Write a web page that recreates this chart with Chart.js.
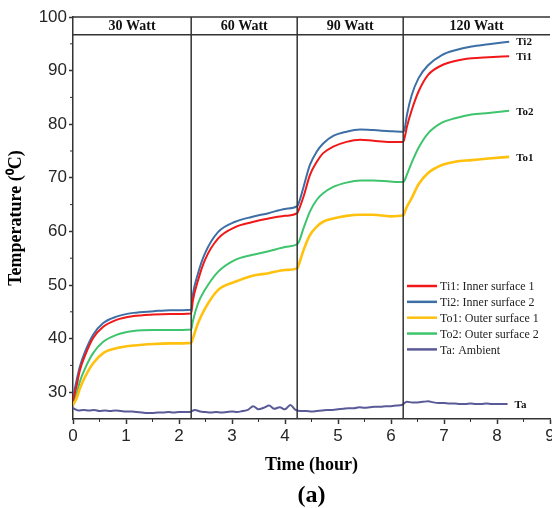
<!DOCTYPE html>
<html>
<head>
<meta charset="utf-8">
<script src="https://cdn.jsdelivr.net/npm/chart.js@4.4.1/dist/chart.umd.min.js"></script>
<style>
    html, body { margin: 0; padding: 0; background: #ffffff; }
</style>
</head>
<body>
<canvas id="chart" width="552" height="508"></canvas>
<script>
/* ---- values ---- */

var TIME = [0, 0.07, 0.13, 0.23, 0.38, 0.57, 0.82, 1.14, 1.52, 1.83, 2.23,
            2.26, 2.36, 2.49, 2.74, 3.06, 3.37, 3.69, 4.0, 4.23,
            4.26, 4.35, 4.47, 4.6, 4.72, 4.91, 5.16, 5.42, 5.67, 5.98, 6.23,
            6.26, 6.3, 6.39, 6.52, 6.7, 6.96, 7.21, 7.52, 7.84, 8.23];

var TI1 = [28.4, 31.3, 34.1, 36.9, 40.1, 42.2, 43.5, 44.2, 44.5, 44.6, 44.7,
           47.0, 50.9, 54.7, 58.7, 60.8, 61.7, 62.4, 62.9, 63.4,
           64.0, 66.5, 70.5, 73.0, 74.6, 75.8, 76.7, 77.1, 76.9, 76.7, 76.7,
           77.6, 79.5, 82.6, 86.1, 89.2, 91.0, 91.8, 92.3, 92.5, 92.7];

var TI2 = [29.0, 32.3, 34.8, 37.6, 40.7, 42.9, 44.1, 44.8, 45.1, 45.3, 45.4,
           48.1, 52.2, 55.9, 59.9, 61.8, 62.7, 63.4, 64.2, 64.7,
           65.3, 68.3, 72.4, 74.9, 76.4, 77.8, 78.6, 79.0, 78.9, 78.7, 78.6,
           79.2, 81.7, 85.4, 88.6, 91.0, 92.9, 93.8, 94.5, 94.9, 95.4];

var TO1 = [27.6, 28.9, 30.7, 32.9, 35.4, 37.3, 38.2, 38.7, 39.0, 39.1, 39.2,
           40.0, 42.9, 45.6, 49.1, 50.6, 51.7, 52.2, 52.8, 53.1,
           53.8, 56.5, 59.3, 60.9, 61.8, 62.4, 62.9, 63.1, 63.1, 62.8, 63.0,
           63.6, 64.6, 66.2, 68.8, 70.9, 72.4, 73.0, 73.3, 73.6, 73.9];

var TO2 = [27.9, 29.8, 32.0, 34.5, 37.3, 39.4, 40.7, 41.4, 41.6, 41.6, 41.7,
           43.2, 46.6, 49.1, 52.5, 54.7, 55.6, 56.3, 57.1, 57.6,
           58.0, 60.6, 63.7, 65.9, 67.1, 68.3, 69.1, 69.5, 69.5, 69.3, 69.2,
           69.6, 70.6, 72.8, 75.6, 78.3, 80.3, 81.1, 81.8, 82.1, 82.5];

var TA_TIME = [0, 0.1, 0.2, 0.3, 0.4, 0.5, 0.6, 0.7, 0.8, 0.9,
               1.0, 1.1, 1.2, 1.3, 1.4, 1.5, 1.6, 1.7, 1.8, 1.9,
               2.0, 2.1, 2.2, 2.3, 2.4, 2.5, 2.6, 2.7, 2.8, 2.9,
               3.0, 3.1, 3.2, 3.3, 3.4, 3.5, 3.6, 3.7, 3.8, 3.9,
               4.0, 4.1, 4.2, 4.3, 4.4, 4.5, 4.6, 4.7, 4.8, 4.9,
               5.0, 5.1, 5.2, 5.3, 5.4, 5.5, 5.6, 5.7, 5.8, 5.9,
               6.0, 6.1, 6.2, 6.3, 6.4, 6.5, 6.6, 6.7, 6.8, 6.9,
               7.0, 7.1, 7.2, 7.3, 7.4, 7.5, 7.6, 7.7, 7.8, 7.9,
               8.0, 8.1, 8.2];

var TA = [27.0, 26.6, 26.7, 26.6, 26.7, 26.5, 26.6, 26.5, 26.6, 26.5,
          26.4, 26.4, 26.3, 26.2, 26.1, 26.1, 26.2, 26.2, 26.3, 26.2,
          26.3, 26.3, 26.3, 26.7, 26.4, 26.3, 26.2, 26.3, 26.2, 26.3,
          26.4, 26.3, 26.5, 26.7, 27.4, 26.8, 27.1, 27.5, 26.9, 27.2,
          26.8, 27.6, 26.7, 26.5, 26.5, 26.4, 26.5, 26.6, 26.7, 26.7,
          26.8, 26.9, 27.0, 27.0, 27.2, 27.1, 27.2, 27.3, 27.3, 27.4,
          27.4, 27.5, 27.6, 28.2, 28.1, 28.1, 28.2, 28.3, 28.1, 28.0,
          28.0, 27.9, 27.9, 27.8, 27.8, 27.9, 27.8, 27.8, 27.9, 27.8,
          27.8, 27.8, 27.8];

var SERIES_NAMES = ['Ti1: Inner surface 1', 'Ti2: Inner surface 2',
                    'To1: Outer surface 1', 'To2: Outer surface 2', 'Ta: Ambient'];
var END_TAGS     = ['Ti1', 'Ti2', 'To1', 'To2', 'Ta'];
var STEP_TIMES   = [2.23, 4.23, 6.23];
var POWER_LABELS = ['30 Watt', '60 Watt', '90 Watt', '120 Watt'];
var HEADER_LEVEL = 96.7;

/* ---- look ---- */

var COLORS = {
    ti1:   '#f01818',
    ti2:   '#3d6fa6',
    to1:   '#ffc10e',
    to2:   '#3ec46d',
    ta:    '#5a5a98',
    frame: '#333333',
    tick:  '#262626',
    text:  '#111111'
};

var SERIF = "'Liberation Serif', 'Times New Roman', serif";
var SANS  = "'Liberation Sans', Arial, sans-serif";

function points(xs, ys) {
    return xs.map(function (x, i) { return { x: x, y: ys[i] }; });
}

function series(label, xs, ys, color, width) {
    return {
        label: label,
        data: points(xs, ys),
        borderColor: color,
        backgroundColor: color,
        borderWidth: width,
        pointRadius: 0,
        cubicInterpolationMode: 'monotone',
        fill: false
    };
}

function line(ctx, x1, y1, x2, y2) {
    ctx.beginPath();
    ctx.moveTo(x1, y1);
    ctx.lineTo(x2, y2);
    ctx.stroke();
}

/* frame, power bands, minor ticks, end tags and legend */
var decor = {
    id: 'decor',
    afterDatasetsDraw: function (chart) {
        var ctx  = chart.ctx;
        var area = chart.chartArea;
        var xs   = chart.scales.x;
        var ys   = chart.scales.y;
        var v, px;

        ctx.save();
        ctx.strokeStyle = COLORS.frame;
        ctx.lineWidth = 1.5;

        line(ctx, area.left, area.top, area.right, area.top);
        var hy = ys.getPixelForValue(HEADER_LEVEL);
        line(ctx, area.left, hy, area.right, hy);

        STEP_TIMES.forEach(function (t) {
            px = xs.getPixelForValue(t);
            line(ctx, px, area.top, px, area.bottom);
        });

        // minor ticks
        ctx.lineWidth = 1;
        for (v = 35; v < 100; v += 10) {
            px = ys.getPixelForValue(v);
            line(ctx, area.left - 3, px, area.left, px);
        }
        for (v = 0.5; v < 9; v += 1) {
            px = xs.getPixelForValue(v);
            line(ctx, px, area.bottom, px, area.bottom + 3);
        }

        // power labels
        var bounds = [xs.min].concat(STEP_TIMES, [xs.max]);
        ctx.fillStyle = COLORS.text;
        ctx.font = 'bold 14px ' + SERIF;
        ctx.textAlign = 'center';
        ctx.textBaseline = 'middle';
        POWER_LABELS.forEach(function (lab, i) {
            var cx = (xs.getPixelForValue(bounds[i]) + xs.getPixelForValue(bounds[i + 1])) / 2;
            ctx.fillText(lab, cx, (area.top + hy) / 2 + 1);
        });

        // tags at the end of each curve
        ctx.font = 'bold 11px ' + SERIF;
        ctx.textAlign = 'left';
        chart.data.datasets.forEach(function (ds, i) {
            var last = ds.data[ds.data.length - 1];
            ctx.fillText(END_TAGS[i], xs.getPixelForValue(last.x) + 7, ys.getPixelForValue(last.y) + 1);
        });

        // legend
        var lx = area.right - 143;
        var ly = area.top + 269;
        ctx.font = '12px ' + SERIF;
        ctx.fillStyle = '#222222';
        chart.data.datasets.forEach(function (ds, i) {
            var y = ly + i * 15.85;
            ctx.strokeStyle = ds.borderColor;
            ctx.lineWidth = 2.5;
            line(ctx, lx, y, lx + 30, y);
            ctx.fillText(ds.label, lx + 33, y + 1);
        });

        ctx.restore();
    }
};

new Chart(document.getElementById('chart').getContext('2d'), {
    type: 'line',
    data: {
        datasets: [
            series(SERIES_NAMES[0], TIME, TI1, COLORS.ti1, 2),
            series(SERIES_NAMES[1], TIME, TI2, COLORS.ti2, 2),
            series(SERIES_NAMES[2], TIME, TO1, COLORS.to1, 2.6),
            series(SERIES_NAMES[3], TIME, TO2, COLORS.to2, 2),
            series(SERIES_NAMES[4], TA_TIME, TA, COLORS.ta, 2)
        ]
    },
    options: {
        responsive: false,
        animation: false,
        layout: { padding: { top: 17, right: 2, bottom: 0, left: 0 } },
        plugins: {
            legend: { display: false },
            tooltip: { enabled: false },
            title: {
                display: true,
                text: '(a)',
                position: 'bottom',
                fullSize: false,
                color: '#000000',
                font: { family: SERIF, size: 24, weight: 'bold', lineHeight: 1.0 },
                padding: { top: 0, bottom: 0 }
            }
        },
        scales: {
            x: {
                type: 'linear',
                min: 0,
                max: 9,
                ticks: { stepSize: 1, color: COLORS.tick, padding: 2, font: { family: SANS, size: 17 } },
                grid: { drawOnChartArea: false, drawTicks: true, tickLength: 5, tickColor: COLORS.frame, tickWidth: 1.5 },
                border: { color: COLORS.frame, width: 1.5 },
                title: {
                    display: true,
                    text: 'Time (hour)',
                    color: '#000000',
                    font: { family: SERIF, size: 18, weight: 'bold' },
                    padding: { top: 0, bottom: 8 }
                },
                afterFit: function (scale) {
                    scale.height = 65;
                    scale.paddingLeft = 0;
                    scale.paddingRight = 0;
                }
            },
            y: {
                min: 25,
                max: 100,
                ticks: { stepSize: 10, includeBounds: false, color: COLORS.tick, padding: 2, font: { family: SANS, size: 17 } },
                grid: { drawOnChartArea: false, drawTicks: true, tickLength: 4, tickColor: COLORS.frame, tickWidth: 1.5 },
                border: { color: COLORS.frame, width: 1.5 },
                title: {
                    display: true,
                    text: 'Temperature (\u2070C)',
                    color: '#000000',
                    font: { family: SERIF, size: 18, weight: 'bold' },
                    padding: { top: 6, bottom: 0 }
                },
                afterFit: function (scale) {
                    scale.width = 73;
                    scale.paddingTop = 0;
                    scale.paddingBottom = 0;
                }
            }
        }
    },
    plugins: [decor]
});
</script>
</body>
</html>
